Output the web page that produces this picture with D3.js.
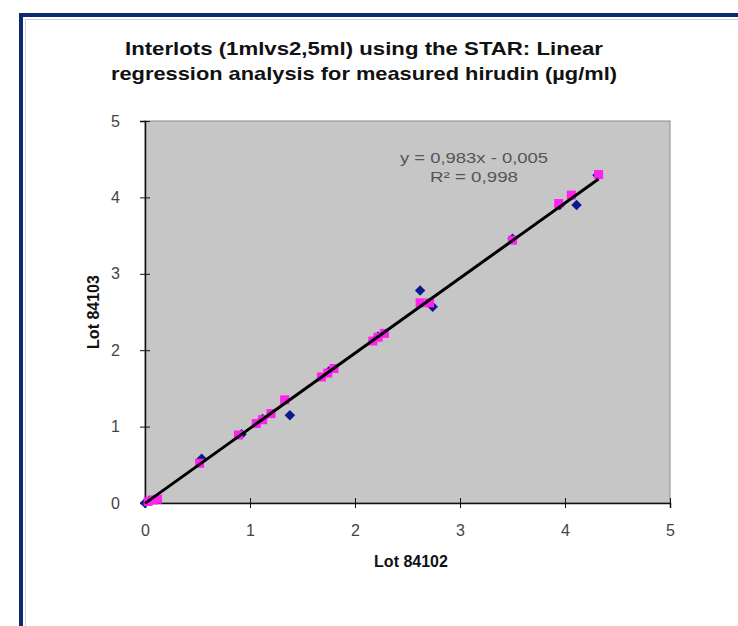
<!DOCTYPE html>
<html>
<head>
<meta charset="utf-8">
<script src="https://cdn.jsdelivr.net/npm/d3@7"></script>
<style>
  body { margin: 0; background: #fff; }
  svg text { font-family: "Liberation Sans", Arial, sans-serif; }
</style>
</head>
<body>
<script>
// # DATA
// # ------------------------------
var titleLines = ["Interlots (1mlvs2,5ml) using the STAR: Linear",
                  "regression analysis for measured hirudin (\u00b5g/ml)"];
var xTitle = "Lot 84102";
var yTitle = "Lot 84103";
var xTicks = [0, 1, 2, 3, 4, 5];
var yTicks = [0, 1, 2, 3, 4, 5];

// ## blue diamonds
var blueX = [0.00, 0.04, 0.54, 0.92, 1.12, 1.38, 1.75, 2.22, 2.62, 2.74, 3.50, 3.95, 4.11, 4.31];
var blueY = [0.00, 0.03, 0.58, 0.90, 1.10, 1.15, 1.72, 2.18, 2.78, 2.57, 3.46, 3.90, 3.90, 4.29];

// ## magenta squares
var magentaX = [0.03, 0.08, 0.12, 0.52, 0.89, 1.06, 1.12, 1.20, 1.33, 1.68, 1.74, 1.80, 2.17, 2.22, 2.28, 2.62, 2.71, 3.50, 3.94, 4.06, 4.32];
var magentaY = [0.02, 0.04, 0.05, 0.52, 0.89, 1.04, 1.09, 1.17, 1.35, 1.65, 1.70, 1.76, 2.12, 2.17, 2.22, 2.62, 2.62, 3.44, 3.92, 4.03, 4.30];

// ## trendline
var slope = 0.983;
var intercept = -0.005;
var trendRange = [0, 4.32];
var eqLines = ["y = 0,983x - 0,005", "R\u00b2 = 0,998"];

// # SETUP
// # ------------------------------
var width = 738, height = 626;
var plot = {left: 145, top: 121, right: 670, bottom: 503};

var svg = d3.select("body").append("svg")
    .attr("width", width)
    .attr("height", height);

// ## frame
svg.append("rect").attr("width", width).attr("height", height).attr("fill", "#fff");
svg.append("rect")
    .attr("x", 21).attr("y", 15)
    .attr("width", width + 20).attr("height", height + 20)
    .attr("fill", "none").attr("stroke", "#0d2a6e").attr("stroke-width", 4);
svg.append("rect")
    .attr("x", 25.5).attr("y", 19.5)
    .attr("width", width + 20).attr("height", height + 20)
    .attr("fill", "none").attr("stroke", "#c9d0de").attr("stroke-width", 1);

// ## title
var titleWidths = [478, 506];
svg.append("g").selectAll("text")
    .data(titleLines)
    .enter().append("text")
    .attr("text-anchor", "middle")
    .attr("x", 364)
    .attr("y", function(d, i) { return 55 + i * 25; })
    .attr("textLength", function(d, i) { return titleWidths[i]; })
    .attr("lengthAdjust", "spacingAndGlyphs")
    .style("font-size", "19px")
    .style("font-weight", "bold")
    .attr("fill", "#111")
    .text(function(d) { return d; });

// ## scales
var x = d3.scaleLinear().domain([0, 5]).range([plot.left, plot.right]);
var y = d3.scaleLinear().domain([0, 5]).range([plot.bottom, plot.top]);

// ## plot area
svg.append("rect")
    .attr("x", plot.left).attr("y", plot.top)
    .attr("width", plot.right - plot.left).attr("height", plot.bottom - plot.top)
    .attr("fill", "#c6c6c6")
    .attr("stroke", "#8a8a8a").attr("stroke-width", 1);

// ## axes
var xAxis = svg.append("g")
    .attr("transform", "translate(0," + plot.bottom + ")")
    .call(d3.axisBottom(x).tickValues(xTicks).tickSize(5).tickPadding(17).tickFormat(d3.format("d")));
xAxis.selectAll(".tick line").attr("y1", -5);

var yAxis = svg.append("g")
    .attr("transform", "translate(" + plot.left + ",0)")
    .call(d3.axisLeft(y).tickValues(yTicks).tickSize(5).tickPadding(20).tickFormat(d3.format("d")));
yAxis.selectAll(".tick line").attr("x1", 5).attr("x2", -5);

svg.selectAll(".domain").attr("stroke", "#111").attr("stroke-width", 1.5);
svg.selectAll(".tick line").attr("stroke", "#111");
svg.selectAll(".tick text")
    .style("font-size", "16px")
    .style("font-family", "'Liberation Sans', Arial, sans-serif")
    .attr("fill", "#444");

// ## axis titles
svg.append("text")
    .attr("x", 411).attr("y", 567)
    .attr("text-anchor", "middle")
    .style("font-size", "16px").style("font-weight", "bold")
    .attr("fill", "#111")
    .text(xTitle);

svg.append("text")
    .attr("transform", "translate(99," + 312 + ") rotate(-90)")
    .attr("text-anchor", "middle")
    .style("font-size", "16px").style("font-weight", "bold")
    .attr("fill", "#111")
    .text(yTitle);

// ## points
var blueData = blueX.map(function(d, i) { return {x: d, y: blueY[i]}; });
var magentaData = magentaX.map(function(d, i) { return {x: d, y: magentaY[i]}; });

svg.append("g").selectAll("path")
    .data(blueData)
    .enter().append("path")
    .attr("d", d3.symbol().type(d3.symbolDiamond2).size(70))
    .attr("transform", function(d) { return "translate(" + x(d.x) + "," + y(d.y) + ")"; })
    .attr("fill", "#0b1a8a");

svg.append("g").selectAll("rect")
    .data(magentaData)
    .enter().append("rect")
    .attr("x", function(d) { return x(d.x) - 4.5; })
    .attr("y", function(d) { return y(d.y) - 4.5; })
    .attr("width", 9).attr("height", 9)
    .attr("fill", "#ff22ee");

// ## trendline
svg.append("line")
    .attr("x1", x(trendRange[0])).attr("y1", y(slope * trendRange[0] + intercept))
    .attr("x2", x(trendRange[1])).attr("y2", y(slope * trendRange[1] + intercept))
    .attr("stroke", "#000").attr("stroke-width", 3);

// ## equation
var eqWidths = [148, 88];
svg.append("g").selectAll("text")
    .data(eqLines)
    .enter().append("text")
    .attr("text-anchor", "middle")
    .attr("x", 474)
    .attr("y", function(d, i) { return 163 + i * 19; })
    .attr("textLength", function(d, i) { return eqWidths[i]; })
    .attr("lengthAdjust", "spacingAndGlyphs")
    .style("font-size", "15px")
    .attr("fill", "#555")
    .text(function(d) { return d; });
</script>
</body>
</html>
